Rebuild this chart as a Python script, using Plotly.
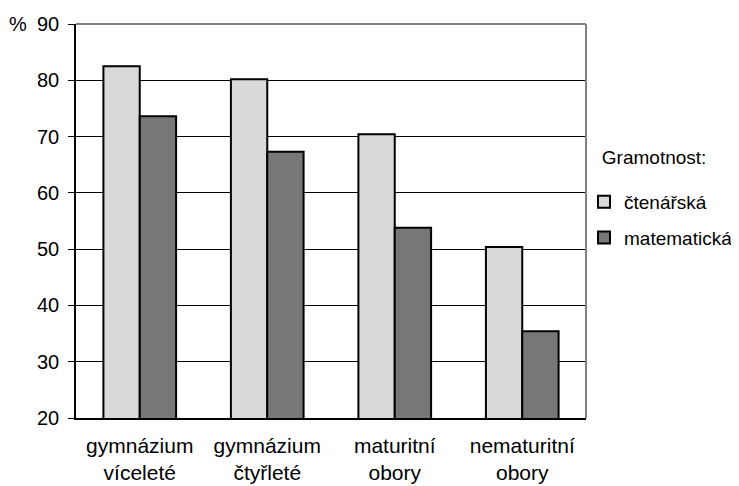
import plotly.graph_objects as go

categories = ["gymnázium<br>víceleté", "gymnázium<br>čtyřleté", "maturitní<br>obory", "nematuritní<br>obory"]
ctenarska = [82.5, 80.2, 70.4, 50.4]
matematicka = [73.6, 67.3, 53.8, 35.4]
y_ticks = [20, 30, 40, 50, 60, 70, 80, 90]

FONT = "Liberation Sans, Arial, sans-serif"
FS = 19
W, H = 731, 478

fig = go.Figure()
fig.add_trace(go.Bar(x=categories, y=ctenarska, name="čtenářská",
                     marker=dict(color="#d9d9d9", line=dict(color="black", width=2)),
                     legendgroup="a"))
fig.add_trace(go.Bar(x=categories, y=matematicka, name="matematická",
                     marker=dict(color="#777777", line=dict(color="black", width=2)),
                     legendgroup="b"))

# page body adds an 8px offset, so the figure is sized to the remaining area
fig.update_layout(
    width=W, height=H,
    margin=dict(l=68, r=153, t=16, b=68, autoexpand=False),
    paper_bgcolor="white", plot_bgcolor="white",
    font=dict(family=FONT, size=FS, color="black"),
    barmode="group", bargap=0.43, bargroupgap=0,
    showlegend=True,
    legend=dict(xref="container", yref="container", x=576 / W, y=1 - 136 / H,
                xanchor="left", yanchor="top",
                title=dict(text="<span style='font-size:19px'>&nbsp;&nbsp;&nbsp;Gramotnost:</span><br>&nbsp;",
                           side="top", font=dict(size=15)),
                font=dict(size=FS), tracegroupgap=8, itemwidth=30,
                bgcolor="rgba(0,0,0,0)"),
    xaxis=dict(showline=True, linecolor="black", linewidth=1.5, ticks="",
               mirror=False, tickfont=dict(size=21), automargin=False,
               ticklabelstandoff=8),
    yaxis=dict(range=[20, 90], tickvals=y_ticks, showgrid=True, gridcolor="black",
               gridwidth=1, showline=True, linecolor="black", linewidth=1.5,
               ticks="outside", ticklen=6, tickcolor="black", ticklabelstandoff=5,
               zeroline=False, tickfont=dict(size=20), automargin=False),
)
# plot border top/right in gray
fig.add_shape(type="line", xref="paper", yref="paper", x0=0, x1=1, y0=1, y1=1,
              line=dict(color="#808080", width=2))
fig.add_shape(type="line", xref="paper", yref="paper", x0=1, x1=1, y0=0, y1=1,
              line=dict(color="#808080", width=2))
fig.add_annotation(text="%", xref="paper", yref="paper", x=-0.1137, y=1.0,
                   xanchor="center", yanchor="middle", showarrow=False,
                   font=dict(size=20))
fig.write_html("out.html")
